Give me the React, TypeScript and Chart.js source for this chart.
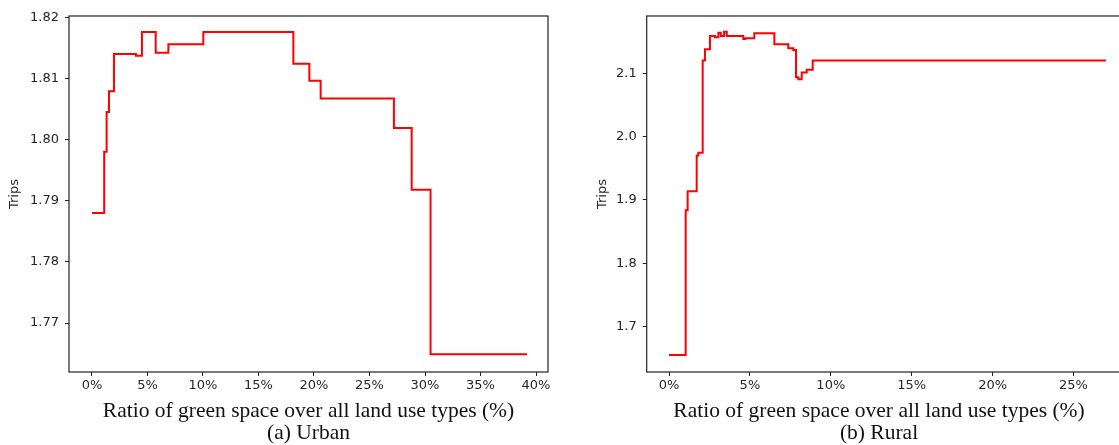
import React, { useEffect, useRef } from "react";
import { Chart, registerables } from "chart.js";

Chart.register(...registerables);

// ---------- Data ----------
const xTitle = "Ratio of green space over all land use types (%)";
const yTitle = "Trips";
const urbanCaption = "(a) Urban";
const ruralCaption = "(b) Rural";

// Urban: green-space ratio (%) where the step changes, and the new Trips value
const urbanX = [0, 1.1, 1.32, 1.53, 1.98, 3.96, 4.5, 5.74, 6.88, 10.03, 18.14, 19.58, 20.6, 27.2, 28.8, 30.5, 39.2];
const urbanY = [1.788, 1.798, 1.8045, 1.8079, 1.814, 1.8137, 1.8176, 1.8142, 1.8156, 1.8176, 1.8124, 1.8096, 1.8067, 1.8019, 1.7918, 1.7649, 1.7649];
const urbanXTicks = [0, 5, 10, 15, 20, 25, 30, 35, 40];
const urbanYTicks = [1.77, 1.78, 1.79, 1.8, 1.81, 1.82];

// Rural
const ruralX = [0, 1.03, 1.15, 1.71, 1.81, 2.08, 2.22, 2.53, 2.84, 3.05, 3.2, 3.4, 3.57, 4.59, 4.72, 5.27, 6.51, 7.37, 7.68, 7.85, 7.99, 8.2, 8.51, 8.88, 27];
const ruralY = [1.6555, 1.8836, 1.9135, 1.97, 1.9746, 2.12, 2.1378, 2.1587, 2.1565, 2.1638, 2.1587, 2.1655, 2.1587, 2.154, 2.155, 2.163, 2.1457, 2.1394, 2.1367, 2.0937, 2.0906, 2.101, 2.1052, 2.12, 2.12];
const ruralXTicks = [0, 5, 10, 15, 20, 25];
const ruralYTicks = [1.7, 1.8, 1.9, 2.0, 2.1];

// ---------- Helpers ----------
const framePlugin = {
  id: "frame",
  afterDraw(chart: any) {
    const { ctx, chartArea } = chart;
    const { left, top, right, bottom } = chartArea;
    ctx.save();
    ctx.strokeStyle = "#222";
    ctx.lineWidth = 1.2;
    ctx.strokeRect(left, top, right - left, bottom - top);
    ctx.restore();
  },
};

const tickFont = { family: "'DejaVu Sans', sans-serif", size: 13 };

function makeConfig(p: any) {
  return {
    type: "line",
    data: {
      datasets: [
        {
          data: p.xs.map((x: number, i: number) => ({ x, y: p.ys[i] })),
          borderColor: "#ff0000",
          borderWidth: 2,
          pointRadius: 0,
          stepped: "before",
          fill: false,
        },
      ],
    },
    options: {
      animation: false,
      responsive: false,
      events: [],
      layout: { padding: { left: 0, right: 0, top: 16, bottom: 0 } },
      plugins: {
        legend: { display: false },
        tooltip: { enabled: false },
        title: {
          display: true,
          position: "bottom",
          text: [xTitle, p.caption],
          color: "#111",
          font: { family: "'Liberation Serif', serif", size: 21.5, weight: "normal", lineHeight: "22px" },
          padding: { top: 0, bottom: 1 },
        },
      },
      scales: {
        x: {
          type: "linear",
          min: p.xMin,
          max: p.xMax,
          afterBuildTicks: (s: any) => {
            s.ticks = p.xTicks.map((v: number) => ({ value: v }));
          },
          afterFit: (s: any) => {
            s.height = 28;
          },
          ticks: {
            callback: (v: number) => `${v}%`,
            font: tickFont,
            color: "#262626",
            padding: 2,
            maxRotation: 0,
            autoSkip: false,
          },
          grid: { drawOnChartArea: false, drawTicks: true, tickLength: 4, color: "#222" },
          border: { display: false },
        },
        y: {
          type: "linear",
          min: p.yMin,
          max: p.yMax,
          afterBuildTicks: (s: any) => {
            s.ticks = p.yTicks.map((v: number) => ({ value: v }));
          },
          afterFit: (s: any) => {
            s.width = p.yWidth;
          },
          ticks: {
            callback: (v: number) => v.toFixed(p.yDec),
            font: tickFont,
            color: "#262626",
            padding: 6,
            autoSkip: false,
          },
          grid: { drawOnChartArea: false, drawTicks: true, tickLength: 4, color: "#222" },
          border: { display: false },
          title: {
            display: true,
            text: yTitle,
            font: tickFont,
            color: "#262626",
            padding: { top: p.yTitlePad, bottom: 0 },
          },
        },
        yR: {
          type: "linear",
          position: "right",
          display: true,
          afterFit: (s: any) => {
            s.width = p.rightWidth;
          },
          ticks: { display: false },
          grid: { display: false },
          border: { display: false },
        },
      },
    },
    plugins: [framePlugin],
  };
}

function Panel(props: any) {
  const ref = useRef<HTMLCanvasElement>(null);
  useEffect(() => {
    const chart = new Chart(ref.current as HTMLCanvasElement, makeConfig(props.cfg) as any);
    return () => chart.destroy();
  }, []);
  return (
    <canvas
      ref={ref}
      width={props.width}
      height={445}
      style={{ position: "absolute", left: props.left, top: 0, width: props.width, height: 445, display: "block" }}
    />
  );
}

export default function App() {
  const urbanCfg = {
    xs: urbanX,
    ys: urbanY,
    xTicks: urbanXTicks,
    yTicks: urbanYTicks,
    xMin: -2.07,
    xMax: 41.08,
    yMin: 1.762,
    yMax: 1.8202,
    yDec: 2,
    yWidth: 69,
    rightWidth: 69,
    yTitlePad: 7,
    caption: urbanCaption,
  };
  const ruralCfg = {
    xs: ruralX,
    ys: ruralY,
    xTicks: ruralXTicks,
    yTicks: ruralYTicks,
    xMin: -1.38,
    xMax: 28.35,
    yMin: 1.6285,
    yMax: 2.1902,
    yDec: 1,
    yWidth: 86.7,
    rightWidth: 70.3,
    yTitlePad: 34.5,
    caption: ruralCaption,
  };
  return (
    <div style={{ position: "absolute", left: 0, top: 0, width: 1119, height: 445, overflow: "hidden", background: "#fff" }}>
      <Panel cfg={urbanCfg} left={0} width={617} />
      <Panel cfg={ruralCfg} left={560} width={638} />
    </div>
  );
}
